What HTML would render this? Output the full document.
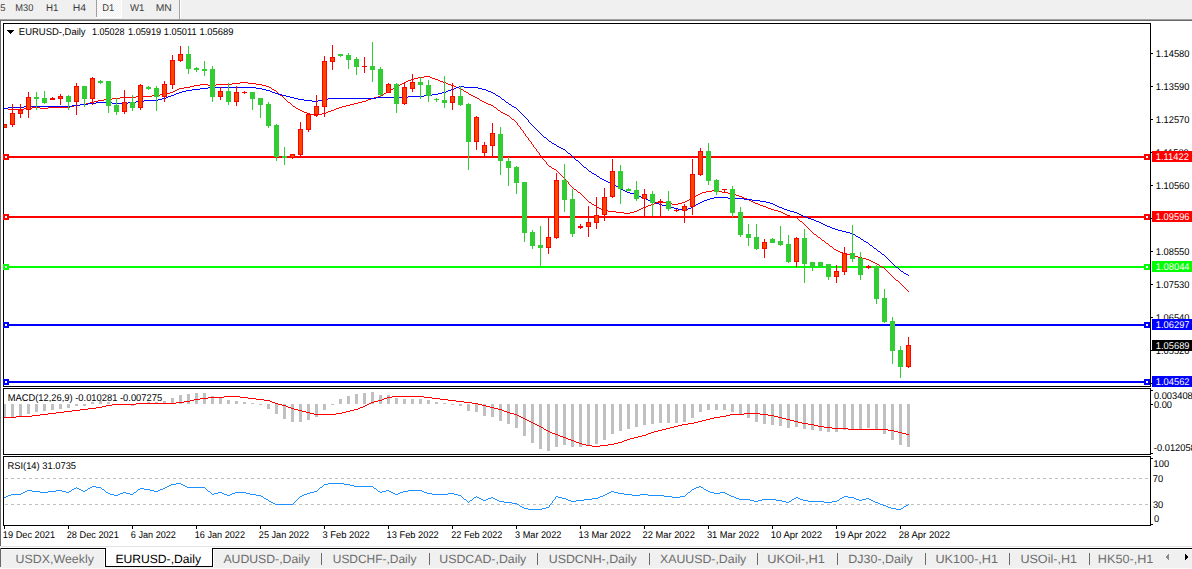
<!DOCTYPE html>
<html><head><meta charset="utf-8"><title>EURUSD Daily</title>
<style>html,body{margin:0;padding:0;background:#fff;overflow:hidden;width:1192px;height:569px}</style>
</head><body>
<svg width="1192" height="569" viewBox="0 0 1192 569" style="display:block">
<style>text{font-family:"Liberation Sans", sans-serif;text-rendering:geometricPrecision;}</style>
<defs><clipPath id="cm"><rect x="4" y="24" width="1146" height="362"/></clipPath><clipPath id="cd"><rect x="4" y="389" width="1146" height="65"/></clipPath><clipPath id="cr"><rect x="4" y="457" width="1146" height="68"/></clipPath></defs>
<rect x="0" y="0" width="1192" height="569" fill="#ffffff"/>
<g shape-rendering="crispEdges">
<rect x="0" y="0" width="1192" height="19" fill="#f0f0f0"/>
<rect x="0" y="19" width="1192" height="1" fill="#a0a0a0"/>
<rect x="0" y="20" width="1192" height="1" fill="#696969"/>
<rect x="0" y="20" width="1" height="526" fill="#696969"/>
<defs><pattern id="chk" x="0" y="0" width="2" height="2" patternUnits="userSpaceOnUse"><rect width="2" height="2" fill="#f0f0f0"/><rect x="0" y="0" width="1" height="1" fill="#fff"/><rect x="1" y="1" width="1" height="1" fill="#fff"/></pattern></defs>
<rect x="97" y="0" width="24" height="17" fill="url(#chk)"/>
<rect x="96" y="0" width="1" height="17" fill="#a0a0a0"/>
<rect x="96" y="17" width="26" height="1" fill="#ffffff"/>
<rect x="121" y="0" width="1" height="17" fill="#ffffff"/>
<rect x="179" y="0" width="1" height="19" fill="#a0a0a0"/>
<rect x="180" y="0" width="1" height="19" fill="#ffffff"/>
</g>
<g shape-rendering="crispEdges" fill="none" stroke="#000" stroke-width="1">
<rect x="3.5" y="23.5" width="1147" height="363"/>
<rect x="3.5" y="388.5" width="1147" height="66"/>
<rect x="3.5" y="456.5" width="1147" height="69"/>
</g>
<g clip-path="url(#cm)" shape-rendering="crispEdges">
<rect x="4" y="156" width="1146" height="2" fill="#ff0000"/>
<rect x="4" y="216" width="1146" height="2" fill="#ff0000"/>
<rect x="4" y="266" width="1146" height="2" fill="#00ff00"/>
<rect x="4" y="324" width="1146" height="2" fill="#0000ff"/>
<rect x="4" y="381" width="1146" height="2" fill="#0000ff"/>
<path d="M424 76h6v1h-6zM418 77h6v1h-6zM430 77h2v1h-2zM414 78h4v1h-4zM432 78h3v1h-3zM411 79h3v1h-3zM435 79h3v1h-3zM408 80h3v1h-3zM438 80h2v1h-2zM406 81h2v1h-2zM440 81h3v1h-3zM240 82h8v1h-8zM404 82h2v1h-2zM443 82h3v1h-3zM232 83h8v1h-8zM248 83h8v1h-8zM402 83h2v1h-2zM446 83h2v1h-2zM200 84h8v1h-8zM216 84h16v1h-16zM256 84h6v1h-6zM400 84h2v1h-2zM448 84h3v1h-3zM194 85h6v1h-6zM208 85h8v1h-8zM262 85h4v1h-4zM399 85h1v1h-1zM451 85h3v1h-3zM190 86h4v1h-4zM266 86h3v1h-3zM397 86h2v1h-2zM454 86h2v1h-2zM184 87h6v1h-6zM269 87h2v1h-2zM395 87h2v1h-2zM456 87h3v1h-3zM179 88h5v1h-5zM271 88h1v1h-1zM393 88h2v1h-2zM459 88h2v1h-2zM177 89h2v1h-2zM272 89h2v1h-2zM391 89h2v1h-2zM461 89h2v1h-2zM175 90h2v1h-2zM274 90h2v1h-2zM389 90h2v1h-2zM463 90h1v1h-1zM173 91h2v1h-2zM276 91h1v1h-1zM388 91h1v1h-1zM464 91h2v1h-2zM170 92h3v1h-3zM277 92h1v1h-1zM386 92h2v1h-2zM466 92h2v1h-2zM166 93h4v1h-4zM278 93h1v1h-1zM384 93h2v1h-2zM468 93h1v1h-1zM160 94h6v1h-6zM279 94h1v1h-1zM383 94h1v1h-1zM469 94h2v1h-2zM152 95h8v1h-8zM280 95h2v1h-2zM381 95h2v1h-2zM471 95h2v1h-2zM136 96h16v1h-16zM282 96h1v1h-1zM378 96h3v1h-3zM473 96h2v1h-2zM120 97h16v1h-16zM283 97h1v1h-1zM374 97h4v1h-4zM475 97h2v1h-2zM112 98h8v1h-8zM284 98h1v1h-1zM371 98h3v1h-3zM477 98h2v1h-2zM104 99h8v1h-8zM285 99h1v1h-1zM368 99h3v1h-3zM479 99h1v1h-1zM98 100h6v1h-6zM286 100h1v1h-1zM366 100h2v1h-2zM480 100h2v1h-2zM94 101h4v1h-4zM287 101h1v1h-1zM362 101h4v1h-4zM482 101h2v1h-2zM90 102h4v1h-4zM288 102h2v1h-2zM358 102h4v1h-4zM484 102h2v1h-2zM86 103h4v1h-4zM290 103h1v1h-1zM354 103h4v1h-4zM486 103h2v1h-2zM80 104h6v1h-6zM291 104h1v1h-1zM350 104h4v1h-4zM488 104h3v1h-3zM74 105h6v1h-6zM292 105h1v1h-1zM346 105h4v1h-4zM491 105h2v1h-2zM70 106h4v1h-4zM293 106h2v1h-2zM342 106h4v1h-4zM493 106h1v1h-1zM32 107h8v1h-8zM48 107h22v1h-22zM295 107h1v1h-1zM339 107h3v1h-3zM494 107h2v1h-2zM4 108h4v1h-4zM24 108h8v1h-8zM40 108h8v1h-8zM296 108h2v1h-2zM336 108h3v1h-3zM496 108h1v1h-1zM8 109h16v1h-16zM298 109h2v1h-2zM334 109h2v1h-2zM497 109h1v1h-1zM300 110h2v1h-2zM331 110h3v1h-3zM498 110h2v1h-2zM302 111h2v1h-2zM328 111h3v1h-3zM500 111h1v1h-1zM304 112h3v1h-3zM326 112h2v1h-2zM501 112h2v1h-2zM307 113h3v1h-3zM322 113h4v1h-4zM503 113h2v1h-2zM310 114h4v1h-4zM318 114h4v1h-4zM505 114h2v1h-2zM314 115h4v1h-4zM507 115h2v1h-2zM509 116h1v1h-1zM510 117h1v1h-1zM511 118h1v1h-1zM512 119h2v1h-2zM514 120h1v1h-1zM515 121h1v1h-1zM516 122h1v1h-1zM517 123h1v1h-1zM517 124h1v1h-1zM518 125h1v1h-1zM519 126h1v1h-1zM520 127h1v1h-1zM520 128h1v1h-1zM521 129h1v1h-1zM522 130h1v1h-1zM523 131h1v1h-1zM523 132h1v1h-1zM524 133h1v1h-1zM525 134h1v1h-1zM525 135h1v1h-1zM526 136h1v1h-1zM527 137h1v1h-1zM528 138h1v1h-1zM528 139h1v1h-1zM529 140h1v1h-1zM530 141h1v1h-1zM531 142h1v1h-1zM531 143h1v1h-1zM532 144h1v1h-1zM533 145h1v1h-1zM533 146h1v1h-1zM534 147h1v1h-1zM535 148h1v1h-1zM536 149h1v1h-1zM536 150h1v1h-1zM537 151h1v1h-1zM538 152h1v1h-1zM539 153h1v1h-1zM539 154h1v1h-1zM540 155h1v1h-1zM541 156h1v1h-1zM542 157h1v1h-1zM542 158h1v1h-1zM543 159h1v1h-1zM544 160h1v1h-1zM545 161h1v1h-1zM546 162h1v1h-1zM546 163h1v1h-1zM547 164h1v1h-1zM548 165h1v1h-1zM549 166h2v1h-2zM551 167h1v1h-1zM552 168h2v1h-2zM554 169h2v1h-2zM556 170h1v1h-1zM557 171h1v1h-1zM558 172h1v1h-1zM559 173h1v1h-1zM560 174h1v1h-1zM561 175h1v1h-1zM562 176h1v1h-1zM563 177h1v1h-1zM564 178h1v1h-1zM565 179h1v1h-1zM566 180h1v1h-1zM567 181h1v1h-1zM568 182h1v1h-1zM568 183h1v1h-1zM569 184h1v1h-1zM570 185h1v1h-1zM571 186h1v1h-1zM572 187h1v1h-1zM573 188h1v1h-1zM574 189h2v1h-2zM576 190h1v1h-1zM712 190h6v1h-6zM577 191h1v1h-1zM706 191h6v1h-6zM718 191h4v1h-4zM578 192h2v1h-2zM702 192h4v1h-4zM722 192h6v1h-6zM580 193h1v1h-1zM700 193h2v1h-2zM728 193h6v1h-6zM581 194h1v1h-1zM698 194h2v1h-2zM734 194h2v1h-2zM582 195h1v1h-1zM696 195h2v1h-2zM736 195h3v1h-3zM583 196h1v1h-1zM695 196h1v1h-1zM739 196h3v1h-3zM584 197h1v1h-1zM693 197h2v1h-2zM742 197h2v1h-2zM585 198h1v1h-1zM691 198h2v1h-2zM744 198h3v1h-3zM586 199h1v1h-1zM689 199h2v1h-2zM747 199h2v1h-2zM587 200h1v1h-1zM687 200h2v1h-2zM749 200h2v1h-2zM588 201h1v1h-1zM659 201h3v1h-3zM685 201h2v1h-2zM751 201h2v1h-2zM589 202h2v1h-2zM656 202h3v1h-3zM662 202h4v1h-4zM682 202h3v1h-3zM753 202h2v1h-2zM591 203h1v1h-1zM654 203h2v1h-2zM666 203h6v1h-6zM678 203h4v1h-4zM755 203h3v1h-3zM592 204h2v1h-2zM651 204h3v1h-3zM672 204h6v1h-6zM758 204h2v1h-2zM594 205h2v1h-2zM648 205h3v1h-3zM760 205h3v1h-3zM596 206h1v1h-1zM646 206h2v1h-2zM763 206h3v1h-3zM597 207h2v1h-2zM643 207h3v1h-3zM766 207h2v1h-2zM599 208h2v1h-2zM641 208h2v1h-2zM768 208h3v1h-3zM601 209h2v1h-2zM639 209h2v1h-2zM771 209h3v1h-3zM603 210h5v1h-5zM637 210h2v1h-2zM774 210h4v1h-4zM608 211h8v1h-8zM634 211h3v1h-3zM778 211h3v1h-3zM616 212h8v1h-8zM630 212h4v1h-4zM781 212h2v1h-2zM624 213h6v1h-6zM783 213h2v1h-2zM785 214h2v1h-2zM787 215h3v1h-3zM790 216h4v1h-4zM794 217h3v1h-3zM797 218h1v1h-1zM798 219h1v1h-1zM799 220h1v1h-1zM800 221h2v1h-2zM802 222h1v1h-1zM803 223h1v1h-1zM804 224h1v1h-1zM805 225h1v1h-1zM806 226h1v1h-1zM807 227h1v1h-1zM808 228h1v1h-1zM809 229h1v1h-1zM810 230h1v1h-1zM811 231h1v1h-1zM812 232h1v1h-1zM813 233h1v1h-1zM814 234h2v1h-2zM816 235h1v1h-1zM817 236h1v1h-1zM818 237h2v1h-2zM820 238h1v1h-1zM821 239h1v1h-1zM822 240h2v1h-2zM824 241h1v1h-1zM825 242h1v1h-1zM826 243h2v1h-2zM828 244h1v1h-1zM829 245h1v1h-1zM830 246h2v1h-2zM832 247h1v1h-1zM833 248h1v1h-1zM834 249h2v1h-2zM836 250h2v1h-2zM838 251h2v1h-2zM840 252h3v1h-3zM843 253h3v1h-3zM846 254h4v1h-4zM850 255h4v1h-4zM854 256h4v1h-4zM858 257h4v1h-4zM862 258h4v1h-4zM866 259h3v1h-3zM869 260h2v1h-2zM871 261h2v1h-2zM873 262h2v1h-2zM875 263h2v1h-2zM877 264h2v1h-2zM879 265h1v1h-1zM880 266h2v1h-2zM882 267h2v1h-2zM884 268h1v1h-1zM885 269h1v1h-1zM886 270h1v1h-1zM887 271h1v1h-1zM888 272h1v1h-1zM889 273h1v1h-1zM890 274h1v1h-1zM891 275h1v1h-1zM892 276h1v1h-1zM893 277h1v1h-1zM894 278h1v1h-1zM895 279h1v1h-1zM896 280h2v1h-2zM898 281h1v1h-1zM899 282h1v1h-1zM900 283h1v1h-1zM901 284h1v1h-1zM902 285h1v1h-1zM903 286h1v1h-1zM904 287h1v1h-1zM905 288h1v1h-1zM906 289h1v1h-1zM907 290h1v1h-1zM908 291h1v1h-1z" fill="#ff0000" shape-rendering="crispEdges"/>
<path d="M459 86h5v1h-5zM208 87h48v1h-48zM456 87h3v1h-3zM464 87h14v1h-14zM200 88h8v1h-8zM256 88h6v1h-6zM454 88h2v1h-2zM478 88h4v1h-4zM192 89h8v1h-8zM262 89h4v1h-4zM451 89h3v1h-3zM482 89h4v1h-4zM186 90h6v1h-6zM266 90h4v1h-4zM448 90h3v1h-3zM486 90h2v1h-2zM182 91h4v1h-4zM270 91h2v1h-2zM446 91h2v1h-2zM488 91h3v1h-3zM179 92h3v1h-3zM272 92h3v1h-3zM442 92h4v1h-4zM491 92h2v1h-2zM176 93h3v1h-3zM275 93h3v1h-3zM438 93h4v1h-4zM493 93h2v1h-2zM174 94h2v1h-2zM278 94h4v1h-4zM432 94h6v1h-6zM495 94h1v1h-1zM171 95h3v1h-3zM282 95h4v1h-4zM424 95h8v1h-8zM496 95h2v1h-2zM168 96h3v1h-3zM286 96h4v1h-4zM408 96h16v1h-16zM498 96h2v1h-2zM166 97h2v1h-2zM290 97h4v1h-4zM376 97h32v1h-32zM500 97h1v1h-1zM162 98h4v1h-4zM294 98h4v1h-4zM328 98h48v1h-48zM501 98h1v1h-1zM158 99h4v1h-4zM298 99h6v1h-6zM322 99h6v1h-6zM502 99h2v1h-2zM144 100h14v1h-14zM304 100h8v1h-8zM318 100h4v1h-4zM504 100h1v1h-1zM136 101h8v1h-8zM312 101h6v1h-6zM505 101h1v1h-1zM96 102h16v1h-16zM128 102h8v1h-8zM506 102h2v1h-2zM88 103h8v1h-8zM112 103h16v1h-16zM508 103h1v1h-1zM80 104h8v1h-8zM509 104h2v1h-2zM72 105h8v1h-8zM511 105h1v1h-1zM24 106h48v1h-48zM512 106h2v1h-2zM8 107h16v1h-16zM514 107h2v1h-2zM4 108h4v1h-4zM516 108h1v1h-1zM517 109h1v1h-1zM518 110h1v1h-1zM519 111h1v1h-1zM520 112h1v1h-1zM521 113h1v1h-1zM522 114h1v1h-1zM523 115h1v1h-1zM524 116h1v1h-1zM525 117h1v1h-1zM526 118h1v1h-1zM527 119h1v1h-1zM528 120h1v1h-1zM528 121h1v1h-1zM529 122h1v1h-1zM530 123h1v1h-1zM531 124h1v1h-1zM532 125h1v1h-1zM533 126h1v1h-1zM534 127h1v1h-1zM535 128h1v1h-1zM536 129h1v1h-1zM537 130h1v1h-1zM538 131h1v1h-1zM539 132h1v1h-1zM540 133h1v1h-1zM541 134h1v1h-1zM542 135h1v1h-1zM543 136h1v1h-1zM544 137h2v1h-2zM546 138h1v1h-1zM547 139h1v1h-1zM548 140h1v1h-1zM549 141h2v1h-2zM551 142h1v1h-1zM552 143h2v1h-2zM554 144h2v1h-2zM556 145h1v1h-1zM557 146h2v1h-2zM559 147h2v1h-2zM561 148h2v1h-2zM563 149h2v1h-2zM565 150h1v1h-1zM566 151h1v1h-1zM567 152h1v1h-1zM568 153h2v1h-2zM570 154h1v1h-1zM571 155h1v1h-1zM572 156h1v1h-1zM573 157h1v1h-1zM574 158h1v1h-1zM575 159h1v1h-1zM576 160h2v1h-2zM578 161h1v1h-1zM579 162h1v1h-1zM580 163h1v1h-1zM581 164h1v1h-1zM582 165h1v1h-1zM583 166h1v1h-1zM584 167h2v1h-2zM586 168h1v1h-1zM587 169h1v1h-1zM588 170h1v1h-1zM589 171h2v1h-2zM591 172h1v1h-1zM592 173h2v1h-2zM594 174h2v1h-2zM596 175h1v1h-1zM597 176h2v1h-2zM599 177h1v1h-1zM600 178h2v1h-2zM602 179h2v1h-2zM604 180h2v1h-2zM606 181h2v1h-2zM608 182h3v1h-3zM611 183h2v1h-2zM613 184h2v1h-2zM615 185h1v1h-1zM616 186h2v1h-2zM618 187h2v1h-2zM620 188h1v1h-1zM621 189h2v1h-2zM623 190h2v1h-2zM625 191h2v1h-2zM627 192h3v1h-3zM630 193h4v1h-4zM634 194h3v1h-3zM637 195h2v1h-2zM639 196h2v1h-2zM641 197h2v1h-2zM714 197h14v1h-14zM643 198h3v1h-3zM710 198h4v1h-4zM728 198h16v1h-16zM646 199h2v1h-2zM707 199h3v1h-3zM744 199h8v1h-8zM648 200h3v1h-3zM704 200h3v1h-3zM752 200h8v1h-8zM651 201h3v1h-3zM702 201h2v1h-2zM760 201h6v1h-6zM654 202h2v1h-2zM700 202h2v1h-2zM766 202h4v1h-4zM656 203h3v1h-3zM698 203h2v1h-2zM770 203h3v1h-3zM659 204h3v1h-3zM696 204h2v1h-2zM773 204h2v1h-2zM662 205h4v1h-4zM695 205h1v1h-1zM775 205h2v1h-2zM666 206h4v1h-4zM693 206h2v1h-2zM777 206h2v1h-2zM670 207h4v1h-4zM691 207h2v1h-2zM779 207h3v1h-3zM674 208h4v1h-4zM688 208h3v1h-3zM782 208h2v1h-2zM678 209h4v1h-4zM686 209h2v1h-2zM784 209h3v1h-3zM682 210h4v1h-4zM787 210h3v1h-3zM790 211h4v1h-4zM794 212h3v1h-3zM797 213h2v1h-2zM799 214h2v1h-2zM801 215h2v1h-2zM803 216h3v1h-3zM806 217h2v1h-2zM808 218h3v1h-3zM811 219h3v1h-3zM814 220h2v1h-2zM816 221h3v1h-3zM819 222h2v1h-2zM821 223h2v1h-2zM823 224h2v1h-2zM825 225h2v1h-2zM827 226h3v1h-3zM830 227h2v1h-2zM832 228h3v1h-3zM835 229h3v1h-3zM838 230h4v1h-4zM842 231h4v1h-4zM846 232h4v1h-4zM850 233h3v1h-3zM853 234h2v1h-2zM855 235h1v1h-1zM856 236h2v1h-2zM858 237h2v1h-2zM860 238h1v1h-1zM861 239h2v1h-2zM863 240h1v1h-1zM864 241h2v1h-2zM866 242h2v1h-2zM868 243h1v1h-1zM869 244h1v1h-1zM870 245h2v1h-2zM872 246h1v1h-1zM873 247h1v1h-1zM874 248h2v1h-2zM876 249h1v1h-1zM877 250h1v1h-1zM878 251h2v1h-2zM880 252h1v1h-1zM881 253h1v1h-1zM882 254h2v1h-2zM884 255h1v1h-1zM885 256h1v1h-1zM886 257h1v1h-1zM887 258h1v1h-1zM888 259h1v1h-1zM889 260h1v1h-1zM890 261h1v1h-1zM891 262h1v1h-1zM892 263h1v1h-1zM893 264h1v1h-1zM894 265h1v1h-1zM895 266h1v1h-1zM896 267h2v1h-2zM898 268h1v1h-1zM899 269h1v1h-1zM900 270h1v1h-1zM901 271h2v1h-2zM903 272h1v1h-1zM904 273h2v1h-2zM906 274h2v1h-2zM908 275h1v1h-1z" fill="#0000ff" shape-rendering="crispEdges"/>
<rect x="4" y="124" width="1" height="4" fill="#ff0000"/>
<rect x="2" y="124" width="5" height="4" fill="#ff0000"/>
<rect x="3" y="125" width="3" height="2" fill="#ff4500"/>
<rect x="12" y="104" width="1" height="23" fill="#ff0000"/>
<rect x="10" y="113" width="5" height="12" fill="#ff0000"/>
<rect x="11" y="114" width="3" height="10" fill="#ff4500"/>
<rect x="20" y="104" width="1" height="14" fill="#ff0000"/>
<rect x="18" y="110" width="5" height="4" fill="#ff0000"/>
<rect x="19" y="111" width="3" height="2" fill="#ff4500"/>
<rect x="28" y="92" width="1" height="26" fill="#ff0000"/>
<rect x="26" y="97" width="5" height="13" fill="#ff0000"/>
<rect x="27" y="98" width="3" height="11" fill="#ff4500"/>
<rect x="36" y="92" width="1" height="18" fill="#32cd32"/>
<rect x="34" y="97" width="5" height="2" fill="#32cd32"/>
<rect x="44" y="91" width="1" height="13" fill="#32cd32"/>
<rect x="42" y="98" width="5" height="5" fill="#32cd32"/>
<rect x="43" y="99" width="3" height="3" fill="#32cd32"/>
<rect x="52" y="97" width="1" height="3" fill="#ff0000"/>
<rect x="50" y="98" width="5" height="2" fill="#ff0000"/>
<rect x="60" y="94" width="1" height="11" fill="#ff0000"/>
<rect x="58" y="96" width="5" height="3" fill="#ff0000"/>
<rect x="59" y="97" width="3" height="1" fill="#ff4500"/>
<rect x="68" y="95" width="1" height="15" fill="#32cd32"/>
<rect x="66" y="96" width="5" height="6" fill="#32cd32"/>
<rect x="67" y="97" width="3" height="4" fill="#32cd32"/>
<rect x="76" y="83" width="1" height="32" fill="#ff0000"/>
<rect x="74" y="86" width="5" height="16" fill="#ff0000"/>
<rect x="75" y="87" width="3" height="14" fill="#ff4500"/>
<rect x="84" y="86" width="1" height="21" fill="#32cd32"/>
<rect x="82" y="86" width="5" height="13" fill="#32cd32"/>
<rect x="83" y="87" width="3" height="11" fill="#32cd32"/>
<rect x="92" y="77" width="1" height="28" fill="#ff0000"/>
<rect x="90" y="78" width="5" height="21" fill="#ff0000"/>
<rect x="91" y="79" width="3" height="19" fill="#ff4500"/>
<rect x="100" y="80" width="1" height="4" fill="#32cd32"/>
<rect x="98" y="81" width="5" height="2" fill="#32cd32"/>
<rect x="108" y="81" width="1" height="32" fill="#32cd32"/>
<rect x="106" y="81" width="5" height="25" fill="#32cd32"/>
<rect x="107" y="82" width="3" height="23" fill="#32cd32"/>
<rect x="116" y="98" width="1" height="17" fill="#32cd32"/>
<rect x="114" y="105" width="5" height="7" fill="#32cd32"/>
<rect x="115" y="106" width="3" height="5" fill="#32cd32"/>
<rect x="124" y="90" width="1" height="24" fill="#ff0000"/>
<rect x="122" y="102" width="5" height="10" fill="#ff0000"/>
<rect x="123" y="103" width="3" height="8" fill="#ff4500"/>
<rect x="132" y="95" width="1" height="16" fill="#32cd32"/>
<rect x="130" y="102" width="5" height="6" fill="#32cd32"/>
<rect x="131" y="103" width="3" height="4" fill="#32cd32"/>
<rect x="140" y="84" width="1" height="26" fill="#ff0000"/>
<rect x="138" y="85" width="5" height="23" fill="#ff0000"/>
<rect x="139" y="86" width="3" height="21" fill="#ff4500"/>
<rect x="148" y="86" width="1" height="4" fill="#32cd32"/>
<rect x="146" y="87" width="5" height="2" fill="#32cd32"/>
<rect x="156" y="86" width="1" height="25" fill="#32cd32"/>
<rect x="154" y="88" width="5" height="9" fill="#32cd32"/>
<rect x="155" y="89" width="3" height="7" fill="#32cd32"/>
<rect x="164" y="81" width="1" height="21" fill="#ff0000"/>
<rect x="162" y="84" width="5" height="13" fill="#ff0000"/>
<rect x="163" y="85" width="3" height="11" fill="#ff4500"/>
<rect x="172" y="55" width="1" height="34" fill="#ff0000"/>
<rect x="170" y="60" width="5" height="25" fill="#ff0000"/>
<rect x="171" y="61" width="3" height="23" fill="#ff4500"/>
<rect x="180" y="46" width="1" height="16" fill="#ff0000"/>
<rect x="178" y="54" width="5" height="7" fill="#ff0000"/>
<rect x="179" y="55" width="3" height="5" fill="#ff4500"/>
<rect x="188" y="46" width="1" height="28" fill="#32cd32"/>
<rect x="186" y="54" width="5" height="15" fill="#32cd32"/>
<rect x="187" y="55" width="3" height="13" fill="#32cd32"/>
<rect x="196" y="67" width="1" height="5" fill="#32cd32"/>
<rect x="194" y="68" width="5" height="2" fill="#32cd32"/>
<rect x="204" y="61" width="1" height="15" fill="#32cd32"/>
<rect x="202" y="69" width="5" height="2" fill="#32cd32"/>
<rect x="212" y="66" width="1" height="36" fill="#32cd32"/>
<rect x="210" y="69" width="5" height="28" fill="#32cd32"/>
<rect x="211" y="70" width="3" height="26" fill="#32cd32"/>
<rect x="220" y="87" width="1" height="13" fill="#ff0000"/>
<rect x="218" y="91" width="5" height="6" fill="#ff0000"/>
<rect x="219" y="92" width="3" height="4" fill="#ff4500"/>
<rect x="228" y="83" width="1" height="22" fill="#32cd32"/>
<rect x="226" y="91" width="5" height="11" fill="#32cd32"/>
<rect x="227" y="92" width="3" height="9" fill="#32cd32"/>
<rect x="236" y="86" width="1" height="20" fill="#ff0000"/>
<rect x="234" y="92" width="5" height="10" fill="#ff0000"/>
<rect x="235" y="93" width="3" height="8" fill="#ff4500"/>
<rect x="244" y="91" width="1" height="3" fill="#ff0000"/>
<rect x="242" y="92" width="5" height="1" fill="#ff0000"/>
<rect x="252" y="92" width="1" height="18" fill="#32cd32"/>
<rect x="250" y="92" width="5" height="7" fill="#32cd32"/>
<rect x="251" y="93" width="3" height="5" fill="#32cd32"/>
<rect x="260" y="98" width="1" height="20" fill="#32cd32"/>
<rect x="258" y="98" width="5" height="7" fill="#32cd32"/>
<rect x="259" y="99" width="3" height="5" fill="#32cd32"/>
<rect x="268" y="102" width="1" height="26" fill="#32cd32"/>
<rect x="266" y="104" width="5" height="22" fill="#32cd32"/>
<rect x="267" y="105" width="3" height="20" fill="#32cd32"/>
<rect x="276" y="124" width="1" height="37" fill="#32cd32"/>
<rect x="274" y="125" width="5" height="32" fill="#32cd32"/>
<rect x="275" y="126" width="3" height="30" fill="#32cd32"/>
<rect x="284" y="147" width="1" height="18" fill="#32cd32"/>
<rect x="282" y="156" width="5" height="2" fill="#32cd32"/>
<rect x="292" y="154" width="1" height="5" fill="#ff0000"/>
<rect x="290" y="154" width="5" height="4" fill="#ff0000"/>
<rect x="291" y="155" width="3" height="2" fill="#ff4500"/>
<rect x="300" y="122" width="1" height="34" fill="#ff0000"/>
<rect x="298" y="129" width="5" height="26" fill="#ff0000"/>
<rect x="299" y="130" width="3" height="24" fill="#ff4500"/>
<rect x="308" y="113" width="1" height="19" fill="#ff0000"/>
<rect x="306" y="114" width="5" height="16" fill="#ff0000"/>
<rect x="307" y="115" width="3" height="14" fill="#ff4500"/>
<rect x="316" y="95" width="1" height="22" fill="#ff0000"/>
<rect x="314" y="106" width="5" height="9" fill="#ff0000"/>
<rect x="315" y="107" width="3" height="7" fill="#ff4500"/>
<rect x="324" y="56" width="1" height="61" fill="#ff0000"/>
<rect x="322" y="61" width="5" height="46" fill="#ff0000"/>
<rect x="323" y="62" width="3" height="44" fill="#ff4500"/>
<rect x="332" y="45" width="1" height="25" fill="#ff0000"/>
<rect x="330" y="57" width="5" height="5" fill="#ff0000"/>
<rect x="331" y="58" width="3" height="3" fill="#ff4500"/>
<rect x="340" y="54" width="1" height="3" fill="#32cd32"/>
<rect x="338" y="54" width="5" height="2" fill="#32cd32"/>
<rect x="348" y="53" width="1" height="16" fill="#32cd32"/>
<rect x="346" y="55" width="5" height="5" fill="#32cd32"/>
<rect x="347" y="56" width="3" height="3" fill="#32cd32"/>
<rect x="356" y="57" width="1" height="18" fill="#32cd32"/>
<rect x="354" y="59" width="5" height="8" fill="#32cd32"/>
<rect x="355" y="60" width="3" height="6" fill="#32cd32"/>
<rect x="364" y="57" width="1" height="16" fill="#ff0000"/>
<rect x="362" y="66" width="5" height="1" fill="#ff0000"/>
<rect x="372" y="42" width="1" height="40" fill="#32cd32"/>
<rect x="370" y="66" width="5" height="4" fill="#32cd32"/>
<rect x="371" y="67" width="3" height="2" fill="#32cd32"/>
<rect x="380" y="67" width="1" height="30" fill="#32cd32"/>
<rect x="378" y="69" width="5" height="26" fill="#32cd32"/>
<rect x="379" y="70" width="3" height="24" fill="#32cd32"/>
<rect x="388" y="83" width="1" height="10" fill="#ff0000"/>
<rect x="386" y="84" width="5" height="9" fill="#ff0000"/>
<rect x="387" y="85" width="3" height="7" fill="#ff4500"/>
<rect x="396" y="83" width="1" height="30" fill="#32cd32"/>
<rect x="394" y="84" width="5" height="20" fill="#32cd32"/>
<rect x="395" y="85" width="3" height="18" fill="#32cd32"/>
<rect x="404" y="82" width="1" height="23" fill="#ff0000"/>
<rect x="402" y="87" width="5" height="17" fill="#ff0000"/>
<rect x="403" y="88" width="3" height="15" fill="#ff4500"/>
<rect x="412" y="74" width="1" height="18" fill="#ff0000"/>
<rect x="410" y="82" width="5" height="7" fill="#ff0000"/>
<rect x="411" y="83" width="3" height="5" fill="#ff4500"/>
<rect x="420" y="77" width="1" height="22" fill="#32cd32"/>
<rect x="418" y="82" width="5" height="3" fill="#32cd32"/>
<rect x="419" y="83" width="3" height="1" fill="#32cd32"/>
<rect x="428" y="80" width="1" height="22" fill="#32cd32"/>
<rect x="426" y="85" width="5" height="11" fill="#32cd32"/>
<rect x="427" y="86" width="3" height="9" fill="#32cd32"/>
<rect x="436" y="98" width="1" height="4" fill="#32cd32"/>
<rect x="434" y="99" width="5" height="1" fill="#32cd32"/>
<rect x="444" y="76" width="1" height="32" fill="#32cd32"/>
<rect x="442" y="100" width="5" height="3" fill="#32cd32"/>
<rect x="443" y="101" width="3" height="1" fill="#32cd32"/>
<rect x="452" y="83" width="1" height="27" fill="#ff0000"/>
<rect x="450" y="96" width="5" height="7" fill="#ff0000"/>
<rect x="451" y="97" width="3" height="5" fill="#ff4500"/>
<rect x="460" y="86" width="1" height="20" fill="#32cd32"/>
<rect x="458" y="96" width="5" height="9" fill="#32cd32"/>
<rect x="459" y="97" width="3" height="7" fill="#32cd32"/>
<rect x="468" y="103" width="1" height="67" fill="#32cd32"/>
<rect x="466" y="104" width="5" height="38" fill="#32cd32"/>
<rect x="467" y="105" width="3" height="36" fill="#32cd32"/>
<rect x="476" y="116" width="1" height="34" fill="#ff0000"/>
<rect x="474" y="117" width="5" height="25" fill="#ff0000"/>
<rect x="475" y="118" width="3" height="23" fill="#ff4500"/>
<rect x="484" y="142" width="1" height="14" fill="#ff0000"/>
<rect x="482" y="145" width="5" height="8" fill="#ff0000"/>
<rect x="483" y="146" width="3" height="6" fill="#ff4500"/>
<rect x="492" y="123" width="1" height="33" fill="#ff0000"/>
<rect x="490" y="133" width="5" height="13" fill="#ff0000"/>
<rect x="491" y="134" width="3" height="11" fill="#ff4500"/>
<rect x="500" y="127" width="1" height="48" fill="#32cd32"/>
<rect x="498" y="134" width="5" height="27" fill="#32cd32"/>
<rect x="499" y="135" width="3" height="25" fill="#32cd32"/>
<rect x="508" y="157" width="1" height="29" fill="#32cd32"/>
<rect x="506" y="161" width="5" height="7" fill="#32cd32"/>
<rect x="507" y="162" width="3" height="5" fill="#32cd32"/>
<rect x="516" y="166" width="1" height="28" fill="#32cd32"/>
<rect x="514" y="167" width="5" height="16" fill="#32cd32"/>
<rect x="515" y="168" width="3" height="14" fill="#32cd32"/>
<rect x="524" y="182" width="1" height="60" fill="#32cd32"/>
<rect x="522" y="182" width="5" height="51" fill="#32cd32"/>
<rect x="523" y="183" width="3" height="49" fill="#32cd32"/>
<rect x="532" y="230" width="1" height="19" fill="#32cd32"/>
<rect x="530" y="232" width="5" height="14" fill="#32cd32"/>
<rect x="531" y="233" width="3" height="12" fill="#32cd32"/>
<rect x="540" y="226" width="1" height="41" fill="#32cd32"/>
<rect x="538" y="245" width="5" height="3" fill="#32cd32"/>
<rect x="539" y="246" width="3" height="1" fill="#32cd32"/>
<rect x="548" y="218" width="1" height="36" fill="#ff0000"/>
<rect x="546" y="237" width="5" height="11" fill="#ff0000"/>
<rect x="547" y="238" width="3" height="9" fill="#ff4500"/>
<rect x="556" y="173" width="1" height="66" fill="#ff0000"/>
<rect x="554" y="180" width="5" height="58" fill="#ff0000"/>
<rect x="555" y="181" width="3" height="56" fill="#ff4500"/>
<rect x="564" y="164" width="1" height="48" fill="#32cd32"/>
<rect x="562" y="180" width="5" height="20" fill="#32cd32"/>
<rect x="563" y="181" width="3" height="18" fill="#32cd32"/>
<rect x="572" y="189" width="1" height="48" fill="#32cd32"/>
<rect x="570" y="199" width="5" height="35" fill="#32cd32"/>
<rect x="571" y="200" width="3" height="33" fill="#32cd32"/>
<rect x="580" y="224" width="1" height="5" fill="#ff0000"/>
<rect x="578" y="226" width="5" height="2" fill="#ff0000"/>
<rect x="588" y="206" width="1" height="31" fill="#ff0000"/>
<rect x="586" y="222" width="5" height="5" fill="#ff0000"/>
<rect x="587" y="223" width="3" height="3" fill="#ff4500"/>
<rect x="596" y="197" width="1" height="32" fill="#ff0000"/>
<rect x="594" y="215" width="5" height="8" fill="#ff0000"/>
<rect x="595" y="216" width="3" height="6" fill="#ff4500"/>
<rect x="604" y="188" width="1" height="33" fill="#ff0000"/>
<rect x="602" y="197" width="5" height="18" fill="#ff0000"/>
<rect x="603" y="198" width="3" height="16" fill="#ff4500"/>
<rect x="612" y="159" width="1" height="39" fill="#ff0000"/>
<rect x="610" y="171" width="5" height="26" fill="#ff0000"/>
<rect x="611" y="172" width="3" height="24" fill="#ff4500"/>
<rect x="620" y="165" width="1" height="39" fill="#32cd32"/>
<rect x="618" y="171" width="5" height="18" fill="#32cd32"/>
<rect x="619" y="172" width="3" height="16" fill="#32cd32"/>
<rect x="628" y="188" width="1" height="3" fill="#32cd32"/>
<rect x="626" y="189" width="5" height="2" fill="#32cd32"/>
<rect x="636" y="181" width="1" height="20" fill="#32cd32"/>
<rect x="634" y="190" width="5" height="9" fill="#32cd32"/>
<rect x="635" y="191" width="3" height="7" fill="#32cd32"/>
<rect x="644" y="189" width="1" height="27" fill="#ff0000"/>
<rect x="642" y="194" width="5" height="5" fill="#ff0000"/>
<rect x="643" y="195" width="3" height="3" fill="#ff4500"/>
<rect x="652" y="191" width="1" height="25" fill="#32cd32"/>
<rect x="650" y="194" width="5" height="9" fill="#32cd32"/>
<rect x="651" y="195" width="3" height="7" fill="#32cd32"/>
<rect x="660" y="199" width="1" height="17" fill="#ff0000"/>
<rect x="658" y="201" width="5" height="2" fill="#ff0000"/>
<rect x="668" y="191" width="1" height="20" fill="#32cd32"/>
<rect x="666" y="201" width="5" height="8" fill="#32cd32"/>
<rect x="667" y="202" width="3" height="6" fill="#32cd32"/>
<rect x="676" y="209" width="1" height="3" fill="#ff0000"/>
<rect x="674" y="210" width="5" height="1" fill="#ff0000"/>
<rect x="684" y="204" width="1" height="19" fill="#ff0000"/>
<rect x="682" y="206" width="5" height="5" fill="#ff0000"/>
<rect x="683" y="207" width="3" height="3" fill="#ff4500"/>
<rect x="692" y="159" width="1" height="56" fill="#ff0000"/>
<rect x="690" y="174" width="5" height="33" fill="#ff0000"/>
<rect x="691" y="175" width="3" height="31" fill="#ff4500"/>
<rect x="700" y="148" width="1" height="28" fill="#ff0000"/>
<rect x="698" y="151" width="5" height="24" fill="#ff0000"/>
<rect x="699" y="152" width="3" height="22" fill="#ff4500"/>
<rect x="708" y="143" width="1" height="42" fill="#32cd32"/>
<rect x="706" y="151" width="5" height="30" fill="#32cd32"/>
<rect x="707" y="152" width="3" height="28" fill="#32cd32"/>
<rect x="716" y="179" width="1" height="16" fill="#32cd32"/>
<rect x="714" y="180" width="5" height="12" fill="#32cd32"/>
<rect x="715" y="181" width="3" height="10" fill="#32cd32"/>
<rect x="724" y="189" width="1" height="3" fill="#ff0000"/>
<rect x="722" y="189" width="5" height="1" fill="#ff0000"/>
<rect x="732" y="186" width="1" height="31" fill="#32cd32"/>
<rect x="730" y="189" width="5" height="24" fill="#32cd32"/>
<rect x="731" y="190" width="3" height="22" fill="#32cd32"/>
<rect x="740" y="207" width="1" height="30" fill="#32cd32"/>
<rect x="738" y="212" width="5" height="23" fill="#32cd32"/>
<rect x="739" y="213" width="3" height="21" fill="#32cd32"/>
<rect x="748" y="224" width="1" height="22" fill="#32cd32"/>
<rect x="746" y="234" width="5" height="4" fill="#32cd32"/>
<rect x="747" y="235" width="3" height="2" fill="#32cd32"/>
<rect x="756" y="224" width="1" height="26" fill="#32cd32"/>
<rect x="754" y="237" width="5" height="12" fill="#32cd32"/>
<rect x="755" y="238" width="3" height="10" fill="#32cd32"/>
<rect x="764" y="239" width="1" height="19" fill="#ff0000"/>
<rect x="762" y="242" width="5" height="7" fill="#ff0000"/>
<rect x="763" y="243" width="3" height="5" fill="#ff4500"/>
<rect x="772" y="238" width="1" height="5" fill="#32cd32"/>
<rect x="770" y="239" width="5" height="4" fill="#32cd32"/>
<rect x="771" y="240" width="3" height="2" fill="#32cd32"/>
<rect x="780" y="226" width="1" height="20" fill="#32cd32"/>
<rect x="778" y="241" width="5" height="4" fill="#32cd32"/>
<rect x="779" y="242" width="3" height="2" fill="#32cd32"/>
<rect x="788" y="235" width="1" height="28" fill="#32cd32"/>
<rect x="786" y="244" width="5" height="18" fill="#32cd32"/>
<rect x="787" y="245" width="3" height="16" fill="#32cd32"/>
<rect x="796" y="237" width="1" height="30" fill="#ff0000"/>
<rect x="794" y="238" width="5" height="24" fill="#ff0000"/>
<rect x="795" y="239" width="3" height="22" fill="#ff4500"/>
<rect x="804" y="229" width="1" height="54" fill="#32cd32"/>
<rect x="802" y="238" width="5" height="26" fill="#32cd32"/>
<rect x="803" y="239" width="3" height="24" fill="#32cd32"/>
<rect x="812" y="262" width="1" height="9" fill="#32cd32"/>
<rect x="810" y="262" width="5" height="5" fill="#32cd32"/>
<rect x="811" y="263" width="3" height="3" fill="#32cd32"/>
<rect x="820" y="262" width="1" height="5" fill="#32cd32"/>
<rect x="818" y="262" width="5" height="5" fill="#32cd32"/>
<rect x="819" y="263" width="3" height="3" fill="#32cd32"/>
<rect x="828" y="264" width="1" height="16" fill="#32cd32"/>
<rect x="826" y="264" width="5" height="13" fill="#32cd32"/>
<rect x="827" y="265" width="3" height="11" fill="#32cd32"/>
<rect x="836" y="265" width="1" height="18" fill="#ff0000"/>
<rect x="834" y="271" width="5" height="6" fill="#ff0000"/>
<rect x="835" y="272" width="3" height="4" fill="#ff4500"/>
<rect x="844" y="247" width="1" height="28" fill="#ff0000"/>
<rect x="842" y="253" width="5" height="19" fill="#ff0000"/>
<rect x="843" y="254" width="3" height="17" fill="#ff4500"/>
<rect x="852" y="225" width="1" height="37" fill="#32cd32"/>
<rect x="850" y="253" width="5" height="6" fill="#32cd32"/>
<rect x="851" y="254" width="3" height="4" fill="#32cd32"/>
<rect x="860" y="252" width="1" height="28" fill="#32cd32"/>
<rect x="858" y="258" width="5" height="17" fill="#32cd32"/>
<rect x="859" y="259" width="3" height="15" fill="#32cd32"/>
<rect x="868" y="265" width="1" height="4" fill="#ff0000"/>
<rect x="866" y="266" width="5" height="2" fill="#ff0000"/>
<rect x="876" y="265" width="1" height="39" fill="#32cd32"/>
<rect x="874" y="266" width="5" height="33" fill="#32cd32"/>
<rect x="875" y="267" width="3" height="31" fill="#32cd32"/>
<rect x="884" y="289" width="1" height="34" fill="#32cd32"/>
<rect x="882" y="298" width="5" height="24" fill="#32cd32"/>
<rect x="883" y="299" width="3" height="22" fill="#32cd32"/>
<rect x="892" y="317" width="1" height="47" fill="#32cd32"/>
<rect x="890" y="321" width="5" height="30" fill="#32cd32"/>
<rect x="891" y="322" width="3" height="28" fill="#32cd32"/>
<rect x="900" y="346" width="1" height="32" fill="#32cd32"/>
<rect x="898" y="350" width="5" height="17" fill="#32cd32"/>
<rect x="899" y="351" width="3" height="15" fill="#32cd32"/>
<rect x="908" y="337" width="1" height="31" fill="#ff0000"/>
<rect x="906" y="345" width="5" height="22" fill="#ff0000"/>
<rect x="907" y="346" width="3" height="20" fill="#ff4500"/>
</g>
<g shape-rendering="crispEdges">
<rect x="3" y="154" width="6" height="6" fill="#ff0000"/>
<rect x="5" y="156" width="2" height="2" fill="#fff"/>
<rect x="1144" y="154" width="6" height="6" fill="#ff0000"/>
<rect x="1146" y="156" width="2" height="2" fill="#fff"/>
<rect x="3" y="214" width="6" height="6" fill="#ff0000"/>
<rect x="5" y="216" width="2" height="2" fill="#fff"/>
<rect x="1144" y="214" width="6" height="6" fill="#ff0000"/>
<rect x="1146" y="216" width="2" height="2" fill="#fff"/>
<rect x="3" y="264" width="6" height="6" fill="#00ff00"/>
<rect x="5" y="266" width="2" height="2" fill="#fff"/>
<rect x="1144" y="264" width="6" height="6" fill="#00ff00"/>
<rect x="1146" y="266" width="2" height="2" fill="#fff"/>
<rect x="3" y="322" width="6" height="6" fill="#0000ff"/>
<rect x="5" y="324" width="2" height="2" fill="#fff"/>
<rect x="1144" y="322" width="6" height="6" fill="#0000ff"/>
<rect x="1146" y="324" width="2" height="2" fill="#fff"/>
<rect x="3" y="379" width="6" height="6" fill="#0000ff"/>
<rect x="5" y="381" width="2" height="2" fill="#fff"/>
<rect x="1144" y="379" width="6" height="6" fill="#0000ff"/>
<rect x="1146" y="381" width="2" height="2" fill="#fff"/>
</g>
<g shape-rendering="crispEdges">
<rect x="1151" y="53" width="2" height="1" fill="#000"/>
<rect x="1151" y="86" width="2" height="1" fill="#000"/>
<rect x="1151" y="119" width="2" height="1" fill="#000"/>
<rect x="1151" y="152" width="2" height="1" fill="#000"/>
<rect x="1151" y="185" width="2" height="1" fill="#000"/>
<rect x="1151" y="218" width="2" height="1" fill="#000"/>
<rect x="1151" y="251" width="2" height="1" fill="#000"/>
<rect x="1151" y="284" width="2" height="1" fill="#000"/>
<rect x="1151" y="317" width="2" height="1" fill="#000"/>
<rect x="1151" y="350" width="2" height="1" fill="#000"/>
<rect x="1151" y="383" width="2" height="1" fill="#000"/>
</g>
<text x="1155.75" y="57" font-size="9.8" fill="#000" textLength="33.69" lengthAdjust="spacingAndGlyphs">1.14580</text>
<text x="1155.75" y="90" font-size="9.8" fill="#000" textLength="33.69" lengthAdjust="spacingAndGlyphs">1.13590</text>
<text x="1155.75" y="123" font-size="9.8" fill="#000" textLength="33.69" lengthAdjust="spacingAndGlyphs">1.12570</text>
<text x="1155.75" y="156" font-size="9.8" fill="#000" textLength="33.00" lengthAdjust="spacingAndGlyphs">1.11580</text>
<text x="1155.75" y="189" font-size="9.8" fill="#000" textLength="33.69" lengthAdjust="spacingAndGlyphs">1.10560</text>
<text x="1155.75" y="222" font-size="9.8" fill="#000" textLength="33.69" lengthAdjust="spacingAndGlyphs">1.09560</text>
<text x="1155.75" y="255" font-size="9.8" fill="#000" textLength="33.69" lengthAdjust="spacingAndGlyphs">1.08550</text>
<text x="1155.75" y="288" font-size="9.8" fill="#000" textLength="33.69" lengthAdjust="spacingAndGlyphs">1.07530</text>
<text x="1155.75" y="321" font-size="9.8" fill="#000" textLength="33.69" lengthAdjust="spacingAndGlyphs">1.06540</text>
<text x="1155.75" y="354" font-size="9.8" fill="#000" textLength="33.69" lengthAdjust="spacingAndGlyphs">1.05520</text>
<text x="1155.75" y="387" font-size="9.8" fill="#000" textLength="33.69" lengthAdjust="spacingAndGlyphs">1.04500</text>
<g shape-rendering="crispEdges">
<rect x="1152" y="151" width="40" height="11" fill="#ff0000"/>
<rect x="1152" y="211" width="40" height="11" fill="#ff0000"/>
<rect x="1152" y="261" width="40" height="11" fill="#00ff00"/>
<rect x="1152" y="319" width="40" height="11" fill="#0000ff"/>
<rect x="1152" y="340" width="40" height="11" fill="#000"/>
<rect x="1152" y="376" width="40" height="11" fill="#0000ff"/>
</g>
<text x="1155.85" y="160" font-size="9.8" fill="#fff" textLength="33.00" lengthAdjust="spacingAndGlyphs">1.11422</text>
<text x="1155.85" y="220" font-size="9.8" fill="#fff" textLength="33.69" lengthAdjust="spacingAndGlyphs">1.09596</text>
<text x="1155.85" y="270" font-size="9.8" fill="#fff" textLength="33.69" lengthAdjust="spacingAndGlyphs">1.08044</text>
<text x="1155.85" y="328" font-size="9.8" fill="#fff" textLength="33.69" lengthAdjust="spacingAndGlyphs">1.06297</text>
<text x="1155.85" y="349" font-size="9.8" fill="#fff" textLength="33.69" lengthAdjust="spacingAndGlyphs">1.05689</text>
<text x="1155.85" y="385" font-size="9.8" fill="#fff" textLength="33.69" lengthAdjust="spacingAndGlyphs">1.04562</text>
<path d="M7 30h7v1h-7zM8 31h5v1h-5zM9 32h3v1h-3zM10 33h1v1h-1z" fill="#000" shape-rendering="crispEdges"/>
<g clip-path="url(#cd)" shape-rendering="crispEdges">
<rect x="3" y="404" width="3" height="13" fill="#c0c0c0"/>
<rect x="11" y="404" width="3" height="13" fill="#c0c0c0"/>
<rect x="19" y="404" width="3" height="12" fill="#c0c0c0"/>
<rect x="27" y="404" width="3" height="10" fill="#c0c0c0"/>
<rect x="35" y="404" width="3" height="8" fill="#c0c0c0"/>
<rect x="43" y="404" width="3" height="7" fill="#c0c0c0"/>
<rect x="51" y="404" width="3" height="6" fill="#c0c0c0"/>
<rect x="59" y="404" width="3" height="5" fill="#c0c0c0"/>
<rect x="67" y="404" width="3" height="4" fill="#c0c0c0"/>
<rect x="75" y="404" width="3" height="2" fill="#c0c0c0"/>
<rect x="83" y="404" width="3" height="2" fill="#c0c0c0"/>
<rect x="91" y="402" width="3" height="2" fill="#c0c0c0"/>
<rect x="99" y="401" width="3" height="3" fill="#c0c0c0"/>
<rect x="107" y="402" width="3" height="2" fill="#c0c0c0"/>
<rect x="115" y="404" width="3" height="1" fill="#c0c0c0"/>
<rect x="123" y="404" width="3" height="1" fill="#c0c0c0"/>
<rect x="131" y="404" width="3" height="2" fill="#c0c0c0"/>
<rect x="139" y="403" width="3" height="1" fill="#c0c0c0"/>
<rect x="147" y="402" width="3" height="2" fill="#c0c0c0"/>
<rect x="155" y="402" width="3" height="2" fill="#c0c0c0"/>
<rect x="163" y="401" width="3" height="3" fill="#c0c0c0"/>
<rect x="171" y="398" width="3" height="6" fill="#c0c0c0"/>
<rect x="179" y="395" width="3" height="9" fill="#c0c0c0"/>
<rect x="187" y="394" width="3" height="10" fill="#c0c0c0"/>
<rect x="195" y="393" width="3" height="11" fill="#c0c0c0"/>
<rect x="203" y="393" width="3" height="11" fill="#c0c0c0"/>
<rect x="211" y="396" width="3" height="8" fill="#c0c0c0"/>
<rect x="219" y="397" width="3" height="7" fill="#c0c0c0"/>
<rect x="227" y="400" width="3" height="4" fill="#c0c0c0"/>
<rect x="235" y="401" width="3" height="3" fill="#c0c0c0"/>
<rect x="243" y="402" width="3" height="2" fill="#c0c0c0"/>
<rect x="251" y="403" width="3" height="1" fill="#c0c0c0"/>
<rect x="259" y="404" width="3" height="1" fill="#c0c0c0"/>
<rect x="267" y="404" width="3" height="5" fill="#c0c0c0"/>
<rect x="275" y="404" width="3" height="10" fill="#c0c0c0"/>
<rect x="283" y="404" width="3" height="15" fill="#c0c0c0"/>
<rect x="291" y="404" width="3" height="18" fill="#c0c0c0"/>
<rect x="299" y="404" width="3" height="18" fill="#c0c0c0"/>
<rect x="307" y="404" width="3" height="16" fill="#c0c0c0"/>
<rect x="315" y="404" width="3" height="13" fill="#c0c0c0"/>
<rect x="323" y="404" width="3" height="6" fill="#c0c0c0"/>
<rect x="331" y="404" width="3" height="1" fill="#c0c0c0"/>
<rect x="339" y="399" width="3" height="5" fill="#c0c0c0"/>
<rect x="347" y="396" width="3" height="8" fill="#c0c0c0"/>
<rect x="355" y="394" width="3" height="10" fill="#c0c0c0"/>
<rect x="363" y="393" width="3" height="11" fill="#c0c0c0"/>
<rect x="371" y="392" width="3" height="12" fill="#c0c0c0"/>
<rect x="379" y="395" width="3" height="9" fill="#c0c0c0"/>
<rect x="387" y="395" width="3" height="9" fill="#c0c0c0"/>
<rect x="395" y="398" width="3" height="6" fill="#c0c0c0"/>
<rect x="403" y="399" width="3" height="5" fill="#c0c0c0"/>
<rect x="411" y="399" width="3" height="5" fill="#c0c0c0"/>
<rect x="419" y="399" width="3" height="5" fill="#c0c0c0"/>
<rect x="427" y="400" width="3" height="4" fill="#c0c0c0"/>
<rect x="435" y="402" width="3" height="2" fill="#c0c0c0"/>
<rect x="443" y="403" width="3" height="1" fill="#c0c0c0"/>
<rect x="451" y="404" width="3" height="1" fill="#c0c0c0"/>
<rect x="459" y="404" width="3" height="2" fill="#c0c0c0"/>
<rect x="467" y="404" width="3" height="7" fill="#c0c0c0"/>
<rect x="475" y="404" width="3" height="8" fill="#c0c0c0"/>
<rect x="483" y="404" width="3" height="12" fill="#c0c0c0"/>
<rect x="491" y="404" width="3" height="13" fill="#c0c0c0"/>
<rect x="499" y="404" width="3" height="17" fill="#c0c0c0"/>
<rect x="507" y="404" width="3" height="20" fill="#c0c0c0"/>
<rect x="515" y="404" width="3" height="24" fill="#c0c0c0"/>
<rect x="523" y="404" width="3" height="32" fill="#c0c0c0"/>
<rect x="531" y="404" width="3" height="39" fill="#c0c0c0"/>
<rect x="539" y="404" width="3" height="45" fill="#c0c0c0"/>
<rect x="547" y="404" width="3" height="47" fill="#c0c0c0"/>
<rect x="555" y="404" width="3" height="43" fill="#c0c0c0"/>
<rect x="563" y="404" width="3" height="41" fill="#c0c0c0"/>
<rect x="571" y="404" width="3" height="43" fill="#c0c0c0"/>
<rect x="579" y="404" width="3" height="43" fill="#c0c0c0"/>
<rect x="587" y="404" width="3" height="42" fill="#c0c0c0"/>
<rect x="595" y="404" width="3" height="40" fill="#c0c0c0"/>
<rect x="603" y="404" width="3" height="36" fill="#c0c0c0"/>
<rect x="611" y="404" width="3" height="30" fill="#c0c0c0"/>
<rect x="619" y="404" width="3" height="27" fill="#c0c0c0"/>
<rect x="627" y="404" width="3" height="25" fill="#c0c0c0"/>
<rect x="635" y="404" width="3" height="23" fill="#c0c0c0"/>
<rect x="643" y="404" width="3" height="21" fill="#c0c0c0"/>
<rect x="651" y="404" width="3" height="20" fill="#c0c0c0"/>
<rect x="659" y="404" width="3" height="19" fill="#c0c0c0"/>
<rect x="667" y="404" width="3" height="19" fill="#c0c0c0"/>
<rect x="675" y="404" width="3" height="19" fill="#c0c0c0"/>
<rect x="683" y="404" width="3" height="18" fill="#c0c0c0"/>
<rect x="691" y="404" width="3" height="14" fill="#c0c0c0"/>
<rect x="699" y="404" width="3" height="8" fill="#c0c0c0"/>
<rect x="707" y="404" width="3" height="6" fill="#c0c0c0"/>
<rect x="715" y="404" width="3" height="6" fill="#c0c0c0"/>
<rect x="723" y="404" width="3" height="6" fill="#c0c0c0"/>
<rect x="731" y="404" width="3" height="8" fill="#c0c0c0"/>
<rect x="739" y="404" width="3" height="11" fill="#c0c0c0"/>
<rect x="747" y="404" width="3" height="14" fill="#c0c0c0"/>
<rect x="755" y="404" width="3" height="18" fill="#c0c0c0"/>
<rect x="763" y="404" width="3" height="20" fill="#c0c0c0"/>
<rect x="771" y="404" width="3" height="21" fill="#c0c0c0"/>
<rect x="779" y="404" width="3" height="22" fill="#c0c0c0"/>
<rect x="787" y="404" width="3" height="24" fill="#c0c0c0"/>
<rect x="795" y="404" width="3" height="23" fill="#c0c0c0"/>
<rect x="803" y="404" width="3" height="25" fill="#c0c0c0"/>
<rect x="811" y="404" width="3" height="26" fill="#c0c0c0"/>
<rect x="819" y="404" width="3" height="27" fill="#c0c0c0"/>
<rect x="827" y="404" width="3" height="28" fill="#c0c0c0"/>
<rect x="835" y="404" width="3" height="28" fill="#c0c0c0"/>
<rect x="843" y="404" width="3" height="26" fill="#c0c0c0"/>
<rect x="851" y="404" width="3" height="25" fill="#c0c0c0"/>
<rect x="859" y="404" width="3" height="25" fill="#c0c0c0"/>
<rect x="867" y="404" width="3" height="24" fill="#c0c0c0"/>
<rect x="875" y="404" width="3" height="26" fill="#c0c0c0"/>
<rect x="883" y="404" width="3" height="30" fill="#c0c0c0"/>
<rect x="891" y="404" width="3" height="36" fill="#c0c0c0"/>
<rect x="899" y="404" width="3" height="41" fill="#c0c0c0"/>
<rect x="907" y="404" width="3" height="43" fill="#c0c0c0"/>
<path d="M224 396h16v1h-16zM392 396h32v1h-32zM208 397h16v1h-16zM240 397h8v1h-8zM387 397h5v1h-5zM424 397h8v1h-8zM200 398h8v1h-8zM248 398h8v1h-8zM384 398h3v1h-3zM432 398h8v1h-8zM194 399h6v1h-6zM256 399h8v1h-8zM382 399h2v1h-2zM440 399h8v1h-8zM190 400h4v1h-4zM264 400h6v1h-6zM378 400h4v1h-4zM448 400h8v1h-8zM184 401h6v1h-6zM270 401h2v1h-2zM374 401h4v1h-4zM456 401h8v1h-8zM176 402h8v1h-8zM272 402h3v1h-3zM371 402h3v1h-3zM464 402h8v1h-8zM136 403h40v1h-40zM275 403h3v1h-3zM369 403h2v1h-2zM472 403h6v1h-6zM112 404h24v1h-24zM278 404h4v1h-4zM367 404h2v1h-2zM478 404h4v1h-4zM106 405h6v1h-6zM282 405h4v1h-4zM365 405h2v1h-2zM482 405h4v1h-4zM102 406h4v1h-4zM286 406h2v1h-2zM363 406h2v1h-2zM486 406h4v1h-4zM96 407h6v1h-6zM288 407h3v1h-3zM360 407h3v1h-3zM490 407h4v1h-4zM88 408h8v1h-8zM291 408h3v1h-3zM358 408h2v1h-2zM494 408h4v1h-4zM80 409h8v1h-8zM294 409h4v1h-4zM354 409h4v1h-4zM498 409h4v1h-4zM72 410h8v1h-8zM298 410h4v1h-4zM350 410h4v1h-4zM502 410h2v1h-2zM64 411h8v1h-8zM302 411h4v1h-4zM346 411h4v1h-4zM504 411h3v1h-3zM56 412h8v1h-8zM306 412h4v1h-4zM342 412h4v1h-4zM507 412h3v1h-3zM48 413h8v1h-8zM310 413h4v1h-4zM336 413h6v1h-6zM510 413h4v1h-4zM744 413h16v1h-16zM40 414h8v1h-8zM314 414h22v1h-22zM514 414h3v1h-3zM730 414h14v1h-14zM760 414h8v1h-8zM32 415h8v1h-8zM517 415h2v1h-2zM726 415h4v1h-4zM768 415h6v1h-6zM16 416h16v1h-16zM519 416h2v1h-2zM720 416h6v1h-6zM774 416h4v1h-4zM4 417h12v1h-12zM521 417h2v1h-2zM714 417h6v1h-6zM778 417h4v1h-4zM523 418h2v1h-2zM710 418h4v1h-4zM782 418h4v1h-4zM525 419h2v1h-2zM706 419h4v1h-4zM786 419h4v1h-4zM527 420h2v1h-2zM702 420h4v1h-4zM790 420h4v1h-4zM529 421h2v1h-2zM698 421h4v1h-4zM794 421h4v1h-4zM531 422h2v1h-2zM694 422h4v1h-4zM798 422h4v1h-4zM533 423h2v1h-2zM688 423h6v1h-6zM802 423h6v1h-6zM535 424h2v1h-2zM682 424h6v1h-6zM808 424h6v1h-6zM537 425h2v1h-2zM678 425h4v1h-4zM814 425h4v1h-4zM539 426h2v1h-2zM674 426h4v1h-4zM818 426h6v1h-6zM541 427h2v1h-2zM670 427h4v1h-4zM824 427h8v1h-8zM543 428h1v1h-1zM666 428h4v1h-4zM832 428h16v1h-16zM544 429h2v1h-2zM662 429h4v1h-4zM848 429h40v1h-40zM546 430h2v1h-2zM658 430h4v1h-4zM888 430h6v1h-6zM548 431h2v1h-2zM654 431h4v1h-4zM894 431h4v1h-4zM550 432h2v1h-2zM651 432h3v1h-3zM898 432h4v1h-4zM552 433h3v1h-3zM648 433h3v1h-3zM902 433h4v1h-4zM555 434h3v1h-3zM646 434h2v1h-2zM906 434h3v1h-3zM558 435h2v1h-2zM642 435h4v1h-4zM560 436h3v1h-3zM638 436h4v1h-4zM563 437h3v1h-3zM634 437h4v1h-4zM566 438h2v1h-2zM630 438h4v1h-4zM568 439h3v1h-3zM627 439h3v1h-3zM571 440h3v1h-3zM624 440h3v1h-3zM574 441h2v1h-2zM622 441h2v1h-2zM576 442h3v1h-3zM618 442h4v1h-4zM579 443h3v1h-3zM614 443h4v1h-4zM582 444h4v1h-4zM608 444h6v1h-6zM586 445h6v1h-6zM600 445h8v1h-8zM592 446h8v1h-8z" fill="#ff0000" shape-rendering="crispEdges"/>
</g>
<g shape-rendering="crispEdges">
<rect x="1151" y="390" width="2" height="1" fill="#000"/>
<rect x="1151" y="404" width="2" height="1" fill="#000"/>
<rect x="1151" y="453" width="2" height="1" fill="#000"/>
</g>
<text x="1153.92" y="399" font-size="9.8" fill="#000" textLength="38.87" lengthAdjust="spacingAndGlyphs">0.003408</text>
<text x="1153.92" y="408" font-size="9.8" fill="#000" textLength="18.14" lengthAdjust="spacingAndGlyphs">0.00</text>
<text x="1153.83" y="451" font-size="9.8" fill="#000" textLength="41.98" lengthAdjust="spacingAndGlyphs">-0.012058</text>
<g clip-path="url(#cr)" shape-rendering="crispEdges">
<line x1="5" y1="478.5" x2="1150" y2="478.5" stroke="#c0c0c0" stroke-width="1" stroke-dasharray="3,3"/>
<line x1="5" y1="504.5" x2="1150" y2="504.5" stroke="#c0c0c0" stroke-width="1" stroke-dasharray="3,3"/>
<path d="M176 483h5v1h-5zM328 483h16v1h-16zM171 484h5v1h-5zM181 484h2v1h-2zM324 484h4v1h-4zM344 484h6v1h-6zM169 485h2v1h-2zM183 485h2v1h-2zM323 485h1v1h-1zM350 485h4v1h-4zM92 486h4v1h-4zM167 486h2v1h-2zM185 486h2v1h-2zM322 486h1v1h-1zM354 486h19v1h-19zM699 486h2v1h-2zM76 487h1v1h-1zM90 487h2v1h-2zM96 487h5v1h-5zM165 487h2v1h-2zM187 487h18v1h-18zM320 487h2v1h-2zM373 487h1v1h-1zM696 487h3v1h-3zM701 487h2v1h-2zM74 488h2v1h-2zM77 488h2v1h-2zM88 488h2v1h-2zM101 488h1v1h-1zM140 488h4v1h-4zM163 488h2v1h-2zM205 488h1v1h-1zM319 488h1v1h-1zM374 488h2v1h-2zM694 488h2v1h-2zM703 488h1v1h-1zM72 489h2v1h-2zM79 489h2v1h-2zM87 489h1v1h-1zM102 489h2v1h-2zM138 489h2v1h-2zM144 489h6v1h-6zM160 489h3v1h-3zM206 489h1v1h-1zM318 489h1v1h-1zM376 489h1v1h-1zM692 489h2v1h-2zM704 489h2v1h-2zM27 490h5v1h-5zM56 490h6v1h-6zM71 490h1v1h-1zM81 490h2v1h-2zM85 490h2v1h-2zM104 490h1v1h-1zM137 490h1v1h-1zM150 490h4v1h-4zM158 490h2v1h-2zM207 490h1v1h-1zM317 490h1v1h-1zM377 490h1v1h-1zM386 490h3v1h-3zM408 490h14v1h-14zM691 490h1v1h-1zM706 490h2v1h-2zM25 491h2v1h-2zM32 491h8v1h-8zM48 491h8v1h-8zM62 491h4v1h-4zM69 491h2v1h-2zM83 491h2v1h-2zM105 491h1v1h-1zM136 491h1v1h-1zM154 491h4v1h-4zM208 491h2v1h-2zM314 491h3v1h-3zM378 491h2v1h-2zM382 491h4v1h-4zM389 491h2v1h-2zM403 491h5v1h-5zM422 491h2v1h-2zM611 491h3v1h-3zM690 491h1v1h-1zM708 491h2v1h-2zM23 492h2v1h-2zM40 492h8v1h-8zM66 492h3v1h-3zM106 492h2v1h-2zM123 492h3v1h-3zM134 492h2v1h-2zM210 492h1v1h-1zM218 492h4v1h-4zM235 492h11v1h-11zM310 492h4v1h-4zM380 492h2v1h-2zM391 492h2v1h-2zM400 492h3v1h-3zM424 492h3v1h-3zM609 492h2v1h-2zM614 492h4v1h-4zM688 492h2v1h-2zM710 492h4v1h-4zM720 492h5v1h-5zM21 493h2v1h-2zM108 493h2v1h-2zM120 493h3v1h-3zM126 493h4v1h-4zM133 493h1v1h-1zM211 493h1v1h-1zM214 493h4v1h-4zM222 493h2v1h-2zM232 493h3v1h-3zM246 493h4v1h-4zM307 493h3v1h-3zM393 493h2v1h-2zM398 493h2v1h-2zM427 493h5v1h-5zM448 493h6v1h-6zM607 493h2v1h-2zM618 493h6v1h-6zM687 493h1v1h-1zM714 493h6v1h-6zM725 493h2v1h-2zM11 494h10v1h-10zM110 494h4v1h-4zM118 494h2v1h-2zM130 494h3v1h-3zM212 494h2v1h-2zM224 494h3v1h-3zM230 494h2v1h-2zM250 494h6v1h-6zM304 494h3v1h-3zM395 494h3v1h-3zM432 494h16v1h-16zM454 494h4v1h-4zM605 494h2v1h-2zM624 494h8v1h-8zM640 494h8v1h-8zM686 494h1v1h-1zM727 494h2v1h-2zM8 495h3v1h-3zM114 495h4v1h-4zM227 495h3v1h-3zM256 495h5v1h-5zM302 495h2v1h-2zM458 495h3v1h-3zM603 495h2v1h-2zM632 495h8v1h-8zM648 495h16v1h-16zM685 495h1v1h-1zM729 495h2v1h-2zM6 496h2v1h-2zM261 496h2v1h-2zM300 496h2v1h-2zM461 496h1v1h-1zM476 496h1v1h-1zM556 496h2v1h-2zM600 496h3v1h-3zM664 496h8v1h-8zM680 496h5v1h-5zM731 496h3v1h-3zM844 496h4v1h-4zM4 497h2v1h-2zM263 497h1v1h-1zM299 497h1v1h-1zM462 497h1v1h-1zM474 497h2v1h-2zM477 497h2v1h-2zM491 497h2v1h-2zM555 497h1v1h-1zM558 497h4v1h-4zM598 497h2v1h-2zM672 497h8v1h-8zM734 497h2v1h-2zM796 497h2v1h-2zM842 497h2v1h-2zM848 497h6v1h-6zM264 498h2v1h-2zM298 498h1v1h-1zM463 498h1v1h-1zM473 498h1v1h-1zM479 498h2v1h-2zM488 498h3v1h-3zM493 498h2v1h-2zM555 498h1v1h-1zM562 498h4v1h-4zM592 498h6v1h-6zM736 498h3v1h-3zM794 498h2v1h-2zM798 498h2v1h-2zM840 498h2v1h-2zM854 498h2v1h-2zM866 498h3v1h-3zM266 499h2v1h-2zM297 499h1v1h-1zM464 499h2v1h-2zM472 499h1v1h-1zM481 499h2v1h-2zM486 499h2v1h-2zM495 499h2v1h-2zM554 499h1v1h-1zM566 499h2v1h-2zM584 499h8v1h-8zM739 499h11v1h-11zM762 499h14v1h-14zM792 499h2v1h-2zM800 499h3v1h-3zM839 499h1v1h-1zM856 499h3v1h-3zM862 499h4v1h-4zM869 499h2v1h-2zM268 500h1v1h-1zM296 500h1v1h-1zM466 500h1v1h-1zM470 500h2v1h-2zM483 500h3v1h-3zM497 500h2v1h-2zM553 500h1v1h-1zM568 500h3v1h-3zM576 500h8v1h-8zM750 500h4v1h-4zM758 500h4v1h-4zM776 500h6v1h-6zM791 500h1v1h-1zM803 500h5v1h-5zM837 500h2v1h-2zM859 500h3v1h-3zM871 500h2v1h-2zM269 501h2v1h-2zM295 501h1v1h-1zM467 501h1v1h-1zM469 501h1v1h-1zM499 501h5v1h-5zM552 501h1v1h-1zM571 501h5v1h-5zM754 501h4v1h-4zM782 501h4v1h-4zM789 501h2v1h-2zM808 501h16v1h-16zM832 501h5v1h-5zM873 501h2v1h-2zM271 502h2v1h-2zM294 502h1v1h-1zM468 502h1v1h-1zM504 502h8v1h-8zM552 502h1v1h-1zM786 502h3v1h-3zM824 502h8v1h-8zM875 502h3v1h-3zM273 503h2v1h-2zM293 503h1v1h-1zM512 503h5v1h-5zM551 503h1v1h-1zM878 503h2v1h-2zM275 504h18v1h-18zM517 504h2v1h-2zM550 504h1v1h-1zM880 504h3v1h-3zM908 504h1v1h-1zM519 505h1v1h-1zM549 505h1v1h-1zM883 505h3v1h-3zM906 505h2v1h-2zM520 506h2v1h-2zM549 506h1v1h-1zM886 506h2v1h-2zM904 506h2v1h-2zM522 507h2v1h-2zM546 507h3v1h-3zM888 507h3v1h-3zM903 507h1v1h-1zM524 508h4v1h-4zM542 508h4v1h-4zM891 508h5v1h-5zM901 508h2v1h-2zM528 509h14v1h-14zM896 509h5v1h-5z" fill="#1e90ff" shape-rendering="crispEdges"/>
</g>
<g shape-rendering="crispEdges">
<rect x="1151" y="458" width="2" height="1" fill="#000"/>
<rect x="1151" y="524" width="2" height="1" fill="#000"/>
</g>
<text x="1153.55" y="467" font-size="9.8" fill="#000" textLength="15.55" lengthAdjust="spacingAndGlyphs">100</text>
<text x="1152.73" y="482" font-size="9.8" fill="#000" textLength="10.37" lengthAdjust="spacingAndGlyphs">70</text>
<text x="1152.92" y="508" font-size="9.8" fill="#000" textLength="10.37" lengthAdjust="spacingAndGlyphs">30</text>
<text x="1153.92" y="522" font-size="9.8" fill="#000" textLength="5.18" lengthAdjust="spacingAndGlyphs">0</text>
<g shape-rendering="crispEdges">
<rect x="4" y="526" width="1" height="3" fill="#000"/>
<rect x="68" y="526" width="1" height="3" fill="#000"/>
<rect x="132" y="526" width="1" height="3" fill="#000"/>
<rect x="196" y="526" width="1" height="3" fill="#000"/>
<rect x="260" y="526" width="1" height="3" fill="#000"/>
<rect x="324" y="526" width="1" height="3" fill="#000"/>
<rect x="388" y="526" width="1" height="3" fill="#000"/>
<rect x="452" y="526" width="1" height="3" fill="#000"/>
<rect x="516" y="526" width="1" height="3" fill="#000"/>
<rect x="580" y="526" width="1" height="3" fill="#000"/>
<rect x="644" y="526" width="1" height="3" fill="#000"/>
<rect x="708" y="526" width="1" height="3" fill="#000"/>
<rect x="772" y="526" width="1" height="3" fill="#000"/>
<rect x="836" y="526" width="1" height="3" fill="#000"/>
<rect x="900" y="526" width="1" height="3" fill="#000"/>
</g>
<g shape-rendering="crispEdges">
<rect x="0" y="546" width="1192" height="1" fill="#e3e3e3"/>
<rect x="0" y="548" width="1192" height="1" fill="#000"/>
<rect x="0" y="549" width="1192" height="19" fill="#f0f0f0"/>
<rect x="0" y="549" width="1192" height="1" fill="#ffffff"/>
<rect x="0" y="568" width="1192" height="1" fill="#fafafa"/>
<rect x="0" y="548" width="1" height="19" fill="#696969"/>
<rect x="104" y="549" width="1" height="18" fill="#fff"/>
<rect x="105" y="548" width="108" height="19" fill="#000"/>
<rect x="106" y="547" width="106" height="19" fill="#fff"/>
<rect x="213" y="549" width="1" height="18" fill="#fff"/>
<rect x="321" y="553" width="1" height="12" fill="#6a6a6a"/>
<rect x="429" y="553" width="1" height="12" fill="#6a6a6a"/>
<rect x="537" y="553" width="1" height="12" fill="#6a6a6a"/>
<rect x="649" y="553" width="1" height="12" fill="#6a6a6a"/>
<rect x="757" y="553" width="1" height="12" fill="#6a6a6a"/>
<rect x="837" y="553" width="1" height="12" fill="#6a6a6a"/>
<rect x="925" y="553" width="1" height="12" fill="#6a6a6a"/>
<rect x="1009" y="553" width="1" height="12" fill="#6a6a6a"/>
<rect x="1089" y="553" width="1" height="12" fill="#6a6a6a"/>
</g>
<path d="M1166 556h1v2h-1zM1167 555h1v4h-1zM1168 554h1v6h-1z" fill="#8c8c8c" shape-rendering="crispEdges"/>
<path d="M1187 556h1v2h-1zM1186 555h1v4h-1zM1185 554h1v6h-1z" fill="#000" shape-rendering="crispEdges"/>
<text x="0.13" y="11" font-size="9.8" fill="#3c3c3c" textLength="5.21" lengthAdjust="spacingAndGlyphs">5</text>
<text x="15.26" y="11" font-size="9.8" fill="#3c3c3c" textLength="18.08" lengthAdjust="spacingAndGlyphs">M30</text>
<text x="46.02" y="11" font-size="9.8" fill="#3c3c3c" textLength="12.43" lengthAdjust="spacingAndGlyphs">H1</text>
<text x="72.87" y="11" font-size="9.8" fill="#3c3c3c" textLength="13.30" lengthAdjust="spacingAndGlyphs">H4</text>
<text x="102.25" y="11" font-size="9.8" fill="#3c3c3c" textLength="11.98" lengthAdjust="spacingAndGlyphs">D1</text>
<text x="130.00" y="11" font-size="9.8" fill="#3c3c3c" textLength="14.44" lengthAdjust="spacingAndGlyphs">W1</text>
<text x="155.67" y="11" font-size="9.8" fill="#3c3c3c" textLength="16.07" lengthAdjust="spacingAndGlyphs">MN</text>
<text x="18.84" y="35" font-size="9.8" fill="#000" textLength="66.76" lengthAdjust="spacingAndGlyphs">EURUSD-,Daily</text>
<text x="92.07" y="35" font-size="9.8" fill="#000" textLength="32.56" lengthAdjust="spacingAndGlyphs">1.05028</text>
<text x="127.96" y="35" font-size="9.8" fill="#000" textLength="33.27" lengthAdjust="spacingAndGlyphs">1.05919</text>
<text x="163.85" y="35" font-size="9.8" fill="#000" textLength="32.67" lengthAdjust="spacingAndGlyphs">1.05011</text>
<text x="199.44" y="35" font-size="9.8" fill="#000" textLength="33.99" lengthAdjust="spacingAndGlyphs">1.05689</text>
<text x="7.65" y="401" font-size="9.8" fill="#000" textLength="154.49" lengthAdjust="spacingAndGlyphs">MACD(12,26,9) -0.010281 -0.007275</text>
<text x="7.45" y="469" font-size="9.8" fill="#000" textLength="68.59" lengthAdjust="spacingAndGlyphs">RSI(14) 31.0735</text>
<text x="2.85" y="538" font-size="9.8" fill="#000" textLength="52.27" lengthAdjust="spacingAndGlyphs">19 Dec 2021</text>
<text x="66.74" y="538" font-size="9.8" fill="#000" textLength="52.08" lengthAdjust="spacingAndGlyphs">28 Dec 2021</text>
<text x="130.84" y="538" font-size="9.8" fill="#000" textLength="45.08" lengthAdjust="spacingAndGlyphs">6 Jan 2022</text>
<text x="194.76" y="538" font-size="9.8" fill="#000" textLength="50.26" lengthAdjust="spacingAndGlyphs">16 Jan 2022</text>
<text x="258.84" y="538" font-size="9.8" fill="#000" textLength="50.28" lengthAdjust="spacingAndGlyphs">25 Jan 2022</text>
<text x="322.52" y="538" font-size="9.8" fill="#000" textLength="47.21" lengthAdjust="spacingAndGlyphs">3 Feb 2022</text>
<text x="386.55" y="538" font-size="9.8" fill="#000" textLength="52.18" lengthAdjust="spacingAndGlyphs">13 Feb 2022</text>
<text x="451.25" y="538" font-size="9.8" fill="#000" textLength="51.07" lengthAdjust="spacingAndGlyphs">22 Feb 2022</text>
<text x="515.02" y="538" font-size="9.8" fill="#000" textLength="46.40" lengthAdjust="spacingAndGlyphs">3 Mar 2022</text>
<text x="578.55" y="538" font-size="9.8" fill="#000" textLength="52.28" lengthAdjust="spacingAndGlyphs">13 Mar 2022</text>
<text x="642.53" y="538" font-size="9.8" fill="#000" textLength="52.40" lengthAdjust="spacingAndGlyphs">22 Mar 2022</text>
<text x="706.92" y="538" font-size="9.8" fill="#000" textLength="52.31" lengthAdjust="spacingAndGlyphs">31 Mar 2022</text>
<text x="770.74" y="538" font-size="9.8" fill="#000" textLength="51.40" lengthAdjust="spacingAndGlyphs">10 Apr 2022</text>
<text x="834.84" y="538" font-size="9.8" fill="#000" textLength="51.40" lengthAdjust="spacingAndGlyphs">19 Apr 2022</text>
<text x="898.83" y="538" font-size="9.8" fill="#000" textLength="51.20" lengthAdjust="spacingAndGlyphs">28 Apr 2022</text>
<text x="115.43" y="563" font-size="12" fill="#000" textLength="85.57" lengthAdjust="spacingAndGlyphs">EURUSD-,Daily</text>
<text x="15.63" y="563" font-size="12" fill="#6d6d6d" textLength="78.27" lengthAdjust="spacingAndGlyphs">USDX,Weekly</text>
<text x="223.40" y="563" font-size="12" fill="#6d6d6d" textLength="86.40" lengthAdjust="spacingAndGlyphs">AUDUSD-,Daily</text>
<text x="332.76" y="563" font-size="12" fill="#6d6d6d" textLength="83.64" lengthAdjust="spacingAndGlyphs">USDCHF-,Daily</text>
<text x="439.34" y="563" font-size="12" fill="#6d6d6d" textLength="86.96" lengthAdjust="spacingAndGlyphs">USDCAD-,Daily</text>
<text x="548.74" y="563" font-size="12" fill="#6d6d6d" textLength="87.86" lengthAdjust="spacingAndGlyphs">USDCNH-,Daily</text>
<text x="659.95" y="563" font-size="12" fill="#6d6d6d" textLength="86.35" lengthAdjust="spacingAndGlyphs">XAUUSD-,Daily</text>
<text x="767.30" y="563" font-size="12" fill="#6d6d6d" textLength="57.69" lengthAdjust="spacingAndGlyphs">UKOil-,H1</text>
<text x="848.30" y="563" font-size="12" fill="#6d6d6d" textLength="64.40" lengthAdjust="spacingAndGlyphs">DJ30-,Daily</text>
<text x="935.41" y="563" font-size="12" fill="#6d6d6d" textLength="62.67" lengthAdjust="spacingAndGlyphs">UK100-,H1</text>
<text x="1020.42" y="563" font-size="12" fill="#6d6d6d" textLength="56.56" lengthAdjust="spacingAndGlyphs">USOil-,H1</text>
<text x="1097.89" y="563" font-size="12" fill="#6d6d6d" textLength="55.49" lengthAdjust="spacingAndGlyphs">HK50-,H1</text>
</svg>
</body></html>
